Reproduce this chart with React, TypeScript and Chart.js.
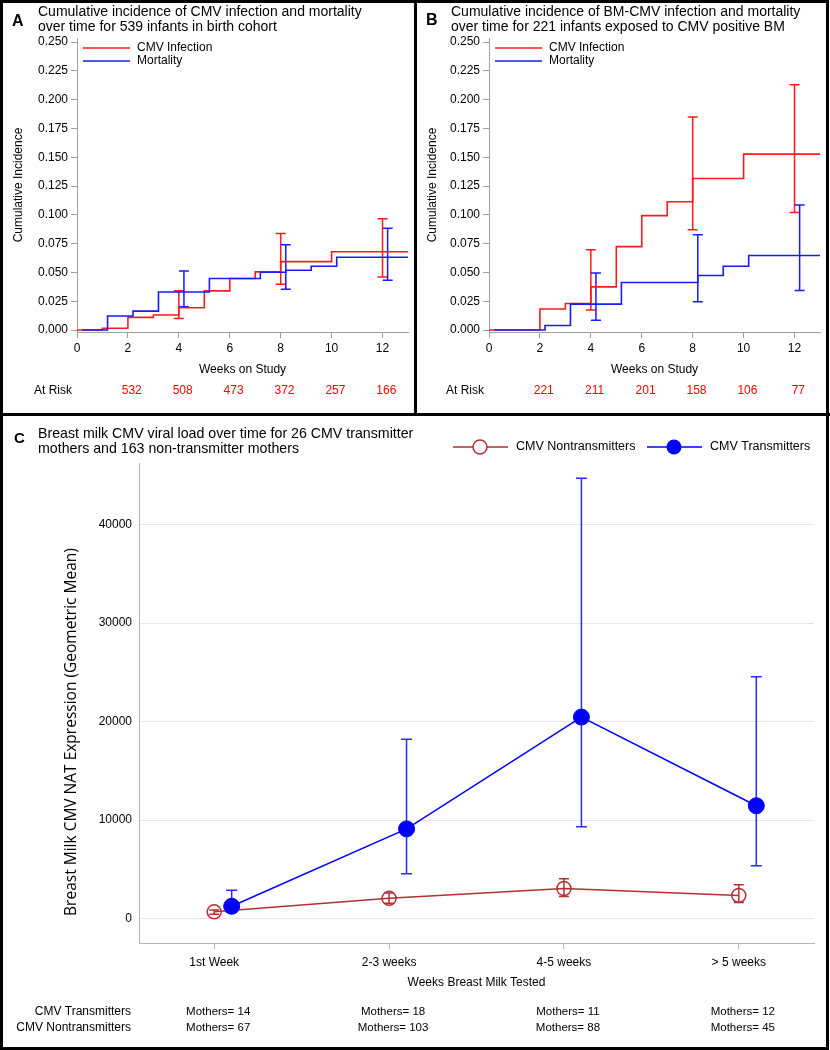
import React, { useEffect, useRef } from "react";
import { Chart, registerables } from "chart.js";

Chart.register(...registerables);

// ---------- Panel A / B shared ----------
const weekTicks = [0, 2, 4, 6, 8, 10, 12];
const incidenceTicks = [0, 0.025, 0.05, 0.075, 0.1, 0.125, 0.15, 0.175, 0.2, 0.225, 0.25];
const atRiskWeeks = [2, 4, 6, 8, 10, 12];

// ---------- Panel A ----------
const aInfTimes = [0, 1, 2, 3, 4, 5, 6, 7, 8, 10, 13];
const aInfValues = [0, 0.0015, 0.011, 0.013, 0.0193, 0.034, 0.0447, 0.0505, 0.0594, 0.068, 0.068];
const aMortTimes = [0.2, 1.2, 2.2, 3.2, 5.2, 7.2, 8.2, 9.2, 10.2, 13];
const aMortValues = [0, 0.0122, 0.0164, 0.033, 0.0447, 0.0502, 0.0519, 0.0554, 0.0632, 0.0632];
const aInfErrX = [4, 8, 12];
const aInfErrLow = [0.01, 0.0398, 0.046];
const aInfErrHigh = [0.034, 0.0839, 0.0966];
const aMortErrX = [4.2, 8.2, 12.2];
const aMortErrLow = [0.0202, 0.0355, 0.0433];
const aMortErrHigh = [0.0513, 0.0741, 0.0883];
const aAtRisk = [532, 508, 473, 372, 257, 166];

// ---------- Panel B ----------
const bInfTimes = [0, 2, 3, 4, 5, 6, 7, 8, 10, 13];
const bInfValues = [0, 0.0182, 0.0231, 0.0375, 0.0724, 0.0993, 0.1114, 0.1316, 0.1527, 0.1527];
const bMortTimes = [0.2, 2.2, 3.2, 5.2, 8.2, 9.2, 10.2, 13];
const bMortValues = [0, 0.004, 0.0225, 0.0413, 0.0473, 0.0554, 0.0647, 0.0647];
const bInfErrX = [4, 8, 12];
const bInfErrLow = [0.0173, 0.0871, 0.102];
const bInfErrHigh = [0.0698, 0.185, 0.213];
const bMortErrX = [4.2, 8.2, 12.2];
const bMortErrLow = [0.0084, 0.0245, 0.0343];
const bMortErrHigh = [0.0496, 0.0828, 0.1085];
const bAtRisk = [221, 211, 201, 158, 106, 77];

// ---------- Panel C ----------
const milkCategories = ["1st Week", "2-3 weeks", "4-5 weeks", "> 5 weeks"];
const milkCatIndex = [0, 1, 2, 3];
const nonTransMean = [680, 2050, 3050, 2350];
const nonTransLow = [450, 1550, 2230, 1620];
const nonTransHigh = [880, 2600, 4050, 3440];
const transMean = [1250, 9100, 20450, 11450];
const transLow = [650, 4550, 9320, 5370];
const transHigh = [2870, 18200, 44700, 24550];
const transMothers = [14, 18, 11, 12];
const nonTransMothers = [67, 103, 88, 45];
const viralTicks = [0, 10000, 20000, 30000, 40000];

const FONT = '"Liberation Sans", Arial, sans-serif';
const RED = "#ff1a1a";
const BLUE = "#1a1aff";
const RED_C = "#b5302f";
const BLUE_C = "#0000ff";
const AXIS = "#a0a0a0";

type ErrSet = { xs: number[]; lo: number[]; hi: number[]; color: string; cap: number; width: number };

function errorBarPlugin(id: string, sets: ErrSet[]) {
  return {
    id,
    beforeDatasetsDraw(chart: any) {
      const { ctx, scales } = chart;
      ctx.save();
      sets.forEach((s) => {
        ctx.strokeStyle = s.color;
        ctx.lineWidth = s.width;
        s.xs.forEach((xv, i) => {
          const x = scales.x.getPixelForValue(xv);
          const y1 = scales.y.getPixelForValue(s.lo[i]);
          const y2 = scales.y.getPixelForValue(s.hi[i]);
          ctx.beginPath();
          ctx.moveTo(x, y1);
          ctx.lineTo(x, y2);
          ctx.moveTo(x - s.cap, y1);
          ctx.lineTo(x + s.cap, y1);
          ctx.moveTo(x - s.cap, y2);
          ctx.lineTo(x + s.cap, y2);
          ctx.stroke();
        });
      });
      ctx.restore();
    },
  };
}

function kmLegendPlugin() {
  return {
    id: "kmLegend",
    afterDraw(chart: any) {
      const { ctx, chartArea } = chart;
      const x0 = chartArea.left + 6;
      const rows = [
        { label: "CMV Infection", color: RED, y: chartArea.top + 10 },
        { label: "Mortality", color: BLUE, y: chartArea.top + 23 },
      ];
      ctx.save();
      ctx.font = `12px ${FONT}`;
      ctx.textBaseline = "middle";
      ctx.textAlign = "left";
      rows.forEach((r) => {
        ctx.strokeStyle = r.color;
        ctx.lineWidth = 1.5;
        ctx.beginPath();
        ctx.moveTo(x0, r.y);
        ctx.lineTo(x0 + 47, r.y);
        ctx.stroke();
        ctx.fillStyle = "#000";
        ctx.fillText(r.label, x0 + 54, r.y);
      });
      ctx.restore();
    },
  };
}

function atRiskPlugin(values: number[], labelX: number) {
  return {
    id: "atRisk",
    afterDraw(chart: any) {
      const { ctx, chartArea, scales } = chart;
      const y = chartArea.bottom + 59;
      ctx.save();
      ctx.font = `12px ${FONT}`;
      ctx.textBaseline = "middle";
      ctx.textAlign = "left";
      ctx.fillStyle = "#000";
      ctx.fillText("At Risk", labelX, y);
      ctx.textAlign = "center";
      ctx.fillStyle = "#ff0000";
      atRiskWeeks.forEach((w, i) => {
        ctx.fillText(String(values[i]), scales.x.getPixelForValue(w + 0.15), y);
      });
      ctx.restore();
    },
  };
}

function kmConfig(
  infT: number[],
  infV: number[],
  mortT: number[],
  mortV: number[],
  infErr: [number[], number[], number[]],
  mortErr: [number[], number[], number[]],
  atRisk: number[],
  yAxisWidth: number,
  padRight: number,
  atRiskLabelX: number
): any {
  return {
    type: "line",
    data: {
      datasets: [
        {
          data: mortT.map((t, i) => ({ x: t, y: mortV[i] })),
          borderColor: BLUE,
          borderWidth: 1.6,
          stepped: true,
          pointRadius: 0,
          fill: false,
        },
        {
          data: infT.map((t, i) => ({ x: t, y: infV[i] })),
          borderColor: RED,
          borderWidth: 1.6,
          stepped: true,
          pointRadius: 0,
          fill: false,
        },
      ],
    },
    options: {
      animation: false,
      responsive: false,
      layout: { padding: { top: 38, left: 0, right: padRight, bottom: 36 } },
      plugins: { legend: { display: false }, tooltip: { enabled: false } },
      scales: {
        x: {
          type: "linear",
          min: 0,
          max: 13,
          afterBuildTicks: (a: any) => {
            a.ticks = weekTicks.map((v) => ({ value: v }));
          },
          afterFit: (s: any) => {
            s.height = 46;
          },
          grid: { drawOnChartArea: false, drawTicks: true, tickLength: 6, color: AXIS },
          border: { display: true, color: AXIS, width: 1 },
          ticks: { font: { family: FONT, size: 12 }, color: "#000", padding: 3, maxRotation: 0, autoSkip: false },
          title: {
            display: true,
            text: "Weeks on Study",
            font: { family: FONT, size: 12 },
            color: "#000",
            padding: { top: 0, bottom: 1 },
          },
        },
        y: {
          type: "linear",
          min: -0.0017,
          max: 0.2535,
          afterBuildTicks: (a: any) => {
            a.ticks = incidenceTicks.map((v) => ({ value: v }));
          },
          afterFit: (s: any) => {
            s.width = yAxisWidth;
          },
          grid: { drawOnChartArea: false, drawTicks: true, tickLength: 6, color: AXIS },
          border: { display: true, color: AXIS, width: 1 },
          ticks: {
            font: { family: FONT, size: 12 },
            color: "#000",
            padding: 3,
            autoSkip: false,
            callback: (v: any) => Number(v).toFixed(3),
          },
          title: {
            display: true,
            text: "Cumulative Incidence",
            font: { family: FONT, size: 12 },
            color: "#000",
            padding: { top: 11, bottom: 0 },
          },
        },
      },
    },
    plugins: [
      errorBarPlugin("errKM", [
        { xs: infErr[0], lo: infErr[1], hi: infErr[2], color: RED, cap: 5, width: 1.5 },
        { xs: mortErr[0], lo: mortErr[1], hi: mortErr[2], color: BLUE, cap: 5, width: 1.5 },
      ]),
      kmLegendPlugin(),
      atRiskPlugin(atRisk, atRiskLabelX),
    ],
  };
}

function milkConfig(): any {
  const legendPlugin = {
    id: "milkLegend",
    afterDraw(chart: any) {
      const { ctx } = chart;
      const y = 33;
      ctx.save();
      ctx.lineWidth = 1.5;
      // Nontransmitters
      ctx.strokeStyle = RED_C;
      ctx.beginPath();
      ctx.moveTo(453, y);
      ctx.lineTo(508, y);
      ctx.stroke();
      ctx.fillStyle = "#fff";
      ctx.beginPath();
      ctx.arc(480, y, 7, 0, Math.PI * 2);
      ctx.fill();
      ctx.stroke();
      // Transmitters
      ctx.strokeStyle = BLUE_C;
      ctx.beginPath();
      ctx.moveTo(647, y);
      ctx.lineTo(702, y);
      ctx.stroke();
      ctx.fillStyle = BLUE_C;
      ctx.beginPath();
      ctx.arc(674, y, 7.5, 0, Math.PI * 2);
      ctx.fill();
      ctx.font = `12.5px ${FONT}`;
      ctx.textBaseline = "middle";
      ctx.textAlign = "left";
      ctx.fillStyle = "#000";
      ctx.fillText("CMV Nontransmitters", 516, y);
      ctx.fillText("CMV Transmitters", 710, y);
      ctx.restore();
    },
  };
  const textPlugin = {
    id: "milkText",
    afterDraw(chart: any) {
      const { ctx, chartArea, scales } = chart;
      ctx.save();
      // y axis title
      ctx.translate(72, (chartArea.top + chartArea.bottom) / 2 + 29);
      ctx.rotate(-Math.PI / 2);
      ctx.font = `15.5px "Open Sans", "DejaVu Sans", sans-serif`;
      ctx.fillStyle = "#000";
      ctx.textAlign = "center";
      ctx.textBaseline = "middle";
      ctx.fillText("Breast Milk CMV NAT Expression (Geometric Mean)", 0, 0);
      ctx.restore();
      // mothers table
      ctx.save();
      ctx.font = `12px ${FONT}`;
      ctx.fillStyle = "#000";
      ctx.textBaseline = "middle";
      const r1 = chartArea.bottom + 69;
      const r2 = chartArea.bottom + 85;
      ctx.textAlign = "right";
      ctx.fillText("CMV Transmitters", 131, r1);
      ctx.fillText("CMV Nontransmitters", 131, r2);
      ctx.textAlign = "center";
      ctx.font = `11.5px ${FONT}`;
      milkCatIndex.forEach((c, i) => {
        const x = scales.x.getPixelForValue(c) + 4;
        ctx.fillText("Mothers= " + transMothers[i], x, r1);
        ctx.fillText("Mothers= " + nonTransMothers[i], x, r2);
      });
      ctx.restore();
    },
  };
  return {
    type: "line",
    data: {
      datasets: [
        {
          label: "CMV Transmitters",
          data: milkCatIndex.map((c, i) => ({ x: c + 0.1, y: transMean[i] })),
          borderColor: BLUE_C,
          borderWidth: 1.5,
          pointRadius: 8,
          pointBackgroundColor: BLUE_C,
          pointBorderColor: BLUE_C,
          pointBorderWidth: 1,
          fill: false,
          tension: 0,
        },
        {
          label: "CMV Nontransmitters",
          data: milkCatIndex.map((c, i) => ({ x: c, y: nonTransMean[i] })),
          borderColor: RED_C,
          borderWidth: 1.5,
          pointRadius: 7,
          pointBackgroundColor: "rgba(255,255,255,0)",
          pointBorderColor: RED_C,
          pointBorderWidth: 1.5,
          fill: false,
          tension: 0,
        },
      ],
    },
    options: {
      animation: false,
      responsive: false,
      layout: { padding: { top: 49, left: 0, right: 16, bottom: 57 } },
      plugins: { legend: { display: false }, tooltip: { enabled: false } },
      scales: {
        x: {
          type: "linear",
          min: -0.43,
          max: 3.43,
          afterBuildTicks: (a: any) => {
            a.ticks = milkCatIndex.map((v) => ({ value: v }));
          },
          afterFit: (s: any) => {
            s.height = 50;
          },
          grid: { drawOnChartArea: false, drawTicks: true, tickLength: 6, color: "#b4b4b4" },
          border: { display: true, color: "#b4b4b4", width: 1 },
          ticks: {
            font: { family: FONT, size: 12 },
            color: "#000",
            padding: 6,
            maxRotation: 0,
            autoSkip: false,
            callback: (v: any) => milkCategories[Math.round(Number(v))],
          },
          title: {
            display: true,
            text: "Weeks Breast Milk Tested",
            font: { family: FONT, size: 12 },
            color: "#000",
            padding: { top: 0, bottom: 3 },
          },
        },
        y: {
          type: "linear",
          min: -2480,
          max: 46240,
          afterBuildTicks: (a: any) => {
            a.ticks = viralTicks.map((v) => ({ value: v }));
          },
          afterFit: (s: any) => {
            s.width = 139;
          },
          grid: { drawOnChartArea: true, drawTicks: false, color: "#e6e6e6", lineWidth: 1 },
          border: { display: true, color: "#b4b4b4", width: 1 },
          ticks: {
            font: { family: FONT, size: 12 },
            color: "#000",
            padding: 7,
            autoSkip: false,
            callback: (v: any) => String(v),
          },
          title: { display: false },
        },
      },
    },
    plugins: [
      errorBarPlugin("errMilk", [
        { xs: milkCatIndex, lo: nonTransLow, hi: nonTransHigh, color: RED_C, cap: 5, width: 1.5 },
        { xs: milkCatIndex.map((c) => c + 0.1), lo: transLow, hi: transHigh, color: "#2a2aff", cap: 5.5, width: 1.5 },
      ]),
      legendPlugin,
      textPlugin,
    ],
  };
}

function ChartCanvas({ config, left, top, width, height }: { config: () => any; left: number; top: number; width: number; height: number }) {
  const ref = useRef<HTMLCanvasElement | null>(null);
  useEffect(() => {
    if (!ref.current) return;
    const chart = new Chart(ref.current, config());
    return () => chart.destroy();
  }, []);
  return (
    <canvas
      ref={ref}
      width={width}
      height={height}
      style={{ position: "absolute", left, top, width, height }}
    />
  );
}

const titleStyle: React.CSSProperties = {
  position: "absolute",
  fontFamily: FONT,
  fontSize: 14,
  lineHeight: "15px",
  color: "#000",
  whiteSpace: "nowrap",
};
const letterStyle: React.CSSProperties = {
  position: "absolute",
  fontFamily: FONT,
  fontSize: 16,
  fontWeight: "bold",
  color: "#000",
  lineHeight: "16px",
};

export default function App() {
  return (
    <div style={{ position: "absolute", left: 0, top: 0, width: 830, height: 1050, background: "#fff", overflow: "hidden" }}>
      <ChartCanvas
        left={0}
        top={0}
        width={414}
        height={414}
        config={() =>
          kmConfig(
            aInfTimes,
            aInfValues,
            aMortTimes,
            aMortValues,
            [aInfErrX, aInfErrLow, aInfErrHigh],
            [aMortErrX, aMortErrLow, aMortErrHigh],
            aAtRisk,
            77,
            6,
            34
          )
        }
      />
      <ChartCanvas
        left={414}
        top={0}
        width={416}
        height={414}
        config={() =>
          kmConfig(
            bInfTimes,
            bInfValues,
            bMortTimes,
            bMortValues,
            [bInfErrX, bInfErrLow, bInfErrHigh],
            [bMortErrX, bMortErrLow, bMortErrHigh],
            bAtRisk,
            75,
            10,
            32
          )
        }
      />
      <ChartCanvas left={0} top={414} width={830} height={636} config={milkConfig} />

      <div style={{ ...letterStyle, left: 12, top: 13 }}>A</div>
      <div style={{ ...titleStyle, left: 38, top: 4 }}>
        Cumulative incidence of CMV infection and mortality
        <br />
        over time for 539 infants in birth cohort
      </div>
      <div style={{ ...letterStyle, left: 426, top: 12 }}>B</div>
      <div style={{ ...titleStyle, left: 451, top: 4 }}>
        Cumulative incidence of BM-CMV infection and mortality
        <br />
        over time for 221 infants exposed to CMV positive BM
      </div>
      <div style={{ ...letterStyle, left: 14, top: 430, fontSize: 15 }}>C</div>
      <div style={{ ...titleStyle, left: 38, top: 426, fontSize: 14.2 }}>
        Breast milk CMV viral load over time for 26 CMV transmitter
        <br />
        mothers and 163 non-transmitter mothers
      </div>

      <div style={{ position: "absolute", left: 0, top: 0, width: 829, height: 1050, border: "3px solid #000", boxSizing: "border-box" }} />
      <div style={{ position: "absolute", left: 0, top: 413, width: 830, height: 3, background: "#000" }} />
      <div style={{ position: "absolute", left: 414, top: 0, width: 3, height: 415, background: "#000" }} />
    </div>
  );
}
